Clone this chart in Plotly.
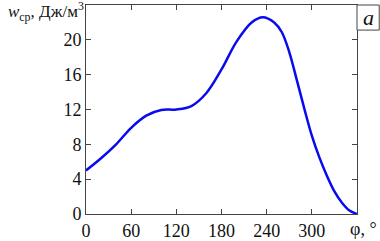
import plotly.graph_objects as go

phi = [0, 20, 40, 60, 80, 100, 120, 140, 160, 180, 200, 220, 235, 250, 260, 270, 280, 290, 300, 310, 320, 330, 340, 350, 360]
w_avg = [5.0, 6.4, 8.0, 9.9, 11.3, 11.95, 12.0, 12.4, 13.9, 16.6, 19.8, 22.0, 22.6, 22.0, 20.9, 18.6, 15.4, 12.1, 9.0, 6.5, 4.4, 2.6, 1.3, 0.4, 0.0]

x_ticks = [0, 60, 120, 180, 240, 300]
y_ticks = [0, 4, 8, 12, 16, 20]

FONT = "Liberation Serif, Times New Roman, DejaVu Serif, serif"
AXC = "#444444"

fig = go.Figure()
fig.add_trace(go.Scatter(x=phi, y=w_avg, mode="lines",
                         line=dict(color="#0a0aee", width=2.5, shape="spline", smoothing=1.0),
                         hoverinfo="skip"))

fig.update_layout(
    width=380, height=241,
    margin=dict(l=86, r=23, t=5, b=27, autoexpand=False),
    paper_bgcolor="white", plot_bgcolor="white",
    showlegend=False,
    font=dict(family=FONT, size=18, color="#111111"),
    xaxis=dict(range=[0, 360], tickvals=x_ticks, ticks="inside", ticklen=5,
               tickcolor=AXC, showline=True, linecolor=AXC, linewidth=1,
               mirror="ticks", showgrid=False, zeroline=False,
               automargin=False, tickfont=dict(family=FONT, size=18)),
    yaxis=dict(range=[0, 24], tickvals=y_ticks + [24], ticktext=[str(v) for v in y_ticks] + [""],
               ticks="inside", ticklen=5,
               tickcolor=AXC, showline=True, linecolor=AXC, linewidth=1,
               mirror="ticks", showgrid=False, zeroline=False,
               automargin=False, tickfont=dict(family=FONT, size=18)),
)

fig.add_annotation(xref="paper", yref="paper", x=0, y=1, xanchor="right", yanchor="middle",
                   xshift=0, yshift=-6, showarrow=False,
                   text="<i>w</i><sub>ср</sub>, Дж/м<sup>3</sup>",
                   font=dict(family=FONT, size=17, color="#111111"))
fig.add_annotation(xref="paper", yref="paper", x=1, y=0, xanchor="center", yanchor="top",
                   xshift=6, yshift=-3, showarrow=False, text="φ, °",
                   font=dict(family=FONT, size=18, color="#111111"))

fig.add_shape(type="rect", xref="paper", yref="paper", x0=1, x1=1.082, y0=0.88, y1=1.0,
              line=dict(color=AXC, width=1), fillcolor="white")
fig.add_annotation(xref="paper", yref="paper", x=1.041, y=0.94, xanchor="center", yanchor="middle",
                   showarrow=False, text="<i>a</i>", font=dict(family=FONT, size=22, color="#111111"))

fig.write_html("out.html", config={"displayModeBar": False},
               post_script="document.body.style.margin='0';document.body.style.overflow='hidden';")
